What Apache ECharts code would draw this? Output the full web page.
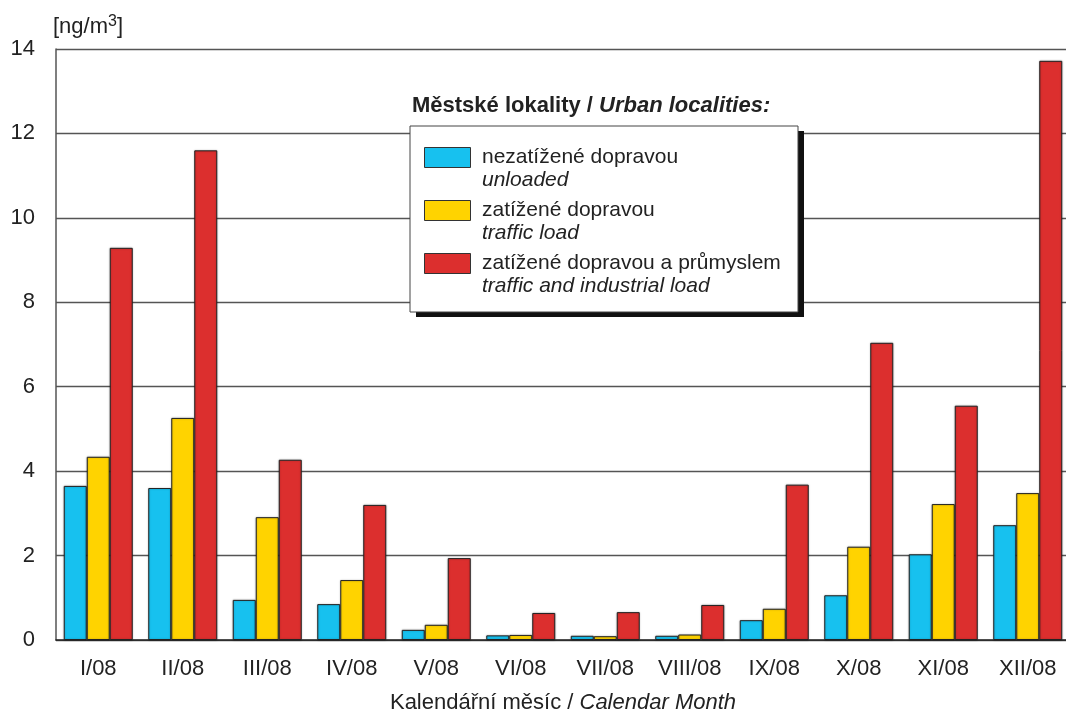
<!DOCTYPE html>
<html>
<head>
<meta charset="utf-8">
<script src="https://cdn.jsdelivr.net/npm/echarts@6/dist/echarts.min.js"></script>
<style>html,body{margin:0;padding:0;background:#fff}#c{width:1066px;height:713px}</style>
</head>
<body>
<div id="c"></div>
<script>
const categories = ['I/08','II/08','III/08','IV/08','V/08','VI/08','VII/08','VIII/08','IX/08','X/08','XI/08','XII/08'];
const unloaded   = [3.65, 3.60, 0.95, 0.85, 0.24, 0.11, 0.10, 0.10, 0.47, 1.06, 2.03, 2.72];
const traffic    = [4.34, 5.26, 2.91, 1.42, 0.36, 0.12, 0.09, 0.13, 0.74, 2.21, 3.22, 3.48];
const industrial = [9.29, 11.60, 4.27, 3.20, 1.94, 0.64, 0.66, 0.83, 3.68, 7.04, 5.55, 13.72];
const namesCz = ['nezatížené dopravou', 'zatížené dopravou', 'zatížené dopravou a průmyslem'];
const namesEn = ['unloaded', 'traffic load', 'traffic and industrial load'];
const colors = ['#17C1EF', '#FFD300', '#DC2F2E'];
const yMin = 0, yMax = 14, yStep = 2;

const FONT = 'Liberation Sans, Arial, Helvetica, sans-serif';
const chart = echarts.init(document.getElementById('c'));

const seriesData = [unloaded, traffic, industrial];
const series = seriesData.map((d, i) => ({
  name: namesCz[i],
  type: 'bar',
  data: d,
  barWidth: 23,
  barGap: '0%',
  itemStyle: { color: colors[i], borderColor: '#222', borderWidth: 1,
               shadowColor: 'rgba(0,0,0,0.25)', shadowBlur: 2 },
  emphasis: { disabled: true }
}));

// legend drawn as graphic elements
const lg = [];
lg.push({ type: 'rect', shape: { x: 416, y: 131, width: 388, height: 186 }, style: { fill: '#111' }, z: 100 });
lg.push({ type: 'rect', shape: { x: 410, y: 126, width: 388, height: 186 }, style: { fill: '#fff', stroke: '#444', lineWidth: 1 }, z: 101 });
namesCz.forEach((n, i) => {
  const y0 = 147 + i * 53;
  lg.push({ type: 'rect', shape: { x: 424.5, y: y0 + 0.5, width: 46, height: 20 }, style: { fill: colors[i], stroke: '#333', lineWidth: 1 }, z: 102 });
  lg.push({ type: 'text', x: 482, y: y0 + 10, style: { text: n, font: '21px ' + FONT, fill: '#222', verticalAlign: 'middle' }, z: 102 });
  lg.push({ type: 'text', x: 482, y: y0 + 33, style: { text: namesEn[i], font: 'italic 21px ' + FONT, fill: '#222', verticalAlign: 'middle' }, z: 102 });
});

chart.setOption({
  animation: false,
  backgroundColor: '#fff',
  title: {
    text: '{b|Městské lokality / }{bi|Urban localities:}',
    left: 407, top: 90,
    textStyle: { rich: {
      b: { fontFamily: FONT, fontWeight: 'bold', fontSize: 22, color: '#222' },
      bi: { fontFamily: FONT, fontWeight: 'bold', fontStyle: 'italic', fontSize: 22, color: '#222' }
    } }
  },
  grid: { left: 56, top: 49, width: 1014, bottom: 73, outerBoundsMode: 'none', containLabel: false },
  xAxis: {
    type: 'category',
    data: categories,
    axisLine: { lineStyle: { color: '#222', width: 1.5 } },
    axisTick: { show: false },
    axisLabel: { fontFamily: FONT, fontSize: 22, color: '#222', margin: 18 },
    name: '{n|Kalendářní měsíc / }{i|Calendar Month}',
    nameLocation: 'middle',
    nameGap: 52,
    nameTextStyle: { rich: {
      n: { fontFamily: FONT, fontSize: 22, color: '#222' },
      i: { fontFamily: FONT, fontSize: 22, fontStyle: 'italic', color: '#222' }
    } }
  },
  yAxis: {
    type: 'value',
    min: yMin, max: yMax, interval: yStep,
    axisLine: { show: true, lineStyle: { color: '#555', width: 1.5 } },
    axisTick: { show: false },
    axisLabel: { fontFamily: FONT, fontSize: 22, color: '#222', margin: 21 },
    splitLine: { lineStyle: { color: '#555', width: 1.3 } },
    name: '[ng/m{s|3}]',
    nameLocation: 'end',
    nameGap: 9,
    nameTextStyle: { align: 'left', fontFamily: FONT, fontSize: 22, color: '#222', padding: [0, 0, 0, -3],
      rich: { s: { fontFamily: FONT, fontSize: 16, color: '#222', padding: [0, 0, 10, 0] } } }
  },
  series: series,
  graphic: lg
});
</script>
</body>
</html>
